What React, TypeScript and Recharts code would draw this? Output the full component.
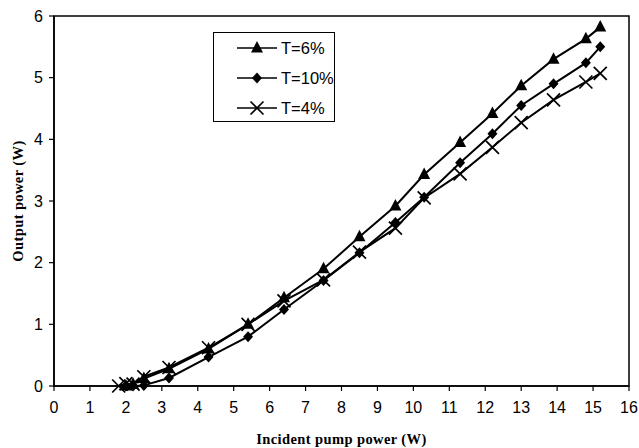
import React from 'react';
import { LineChart, Line, XAxis, YAxis, ReferenceArea, Legend, Label } from 'recharts';

// Incident pump power (W) and output power (W) per output-coupler transmission
const pumpT6 = [2.0, 2.2, 2.5, 3.2, 4.3, 5.4, 6.4, 7.5, 8.5, 9.5, 10.3, 11.3, 12.2, 13.0, 13.9, 14.8, 15.2];
const outT6 = [0.0, 0.03, 0.12, 0.28, 0.6, 1.0, 1.43, 1.9, 2.42, 2.92, 3.43, 3.95, 4.42, 4.87, 5.3, 5.63, 5.82];

const pumpT10 = [2.0, 2.2, 2.5, 3.2, 4.3, 5.4, 6.4, 7.5, 8.5, 9.5, 10.3, 11.3, 12.2, 13.0, 13.9, 14.8, 15.2];
const outT10 = [0.0, 0.0, 0.01, 0.13, 0.47, 0.8, 1.24, 1.71, 2.16, 2.65, 3.06, 3.62, 4.09, 4.55, 4.9, 5.24, 5.5];

const pumpT4 = [1.8, 2.0, 2.2, 2.5, 3.2, 4.3, 5.4, 6.4, 7.5, 8.5, 9.5, 10.3, 11.3, 12.2, 13.0, 13.9, 14.8, 15.2];
const outT4 = [0.0, 0.04, 0.03, 0.15, 0.3, 0.62, 1.0, 1.38, 1.72, 2.17, 2.56, 3.05, 3.44, 3.87, 4.27, 4.64, 4.93, 5.07];

const xTicks = [0, 1, 2, 3, 4, 5, 6, 7, 8, 9, 10, 11, 12, 13, 14, 15, 16];
const yTicks = [0, 1, 2, 3, 4, 5, 6];

const legendNames = ['T=6%', 'T=10%', 'T=4%'];

const zip = (xs: number[], ys: number[]) => xs.map((x, i) => ({ x, y: ys[i] }));
const dataT6 = zip(pumpT6, outT6);
const dataT10 = zip(pumpT10, outT10);
const dataT4 = zip(pumpT4, outT4);

const TriShape = ({ cx, cy }: any) =>
  cx == null ? null : (
    <path d={`M${cx},${cy - 7} L${cx + 6},${cy + 4.5} L${cx - 6},${cy + 4.5} Z`} fill="#000" />
  );
const DiaShape = ({ cx, cy }: any) =>
  cx == null ? null : (
    <path d={`M${cx},${cy - 5.5} L${cx + 5},${cy} L${cx},${cy + 5.5} L${cx - 5},${cy} Z`} fill="#000" />
  );
const CrossShape = ({ cx, cy }: any) =>
  cx == null ? null : (
    <path
      d={`M${cx - 6.5},${cy - 6.5} L${cx + 6.5},${cy + 6.5} M${cx - 6.5},${cy + 6.5} L${cx + 6.5},${cy - 6.5}`}
      stroke="#000"
      strokeWidth={1.7}
      fill="none"
    />
  );

const shapes = [TriShape, DiaShape, CrossShape];

const LegendBox = () => (
  <div
    style={{
      width: 122,
      height: 90,
      border: '1.5px solid #000',
      background: '#fff',
      boxSizing: 'border-box',
    }}
  >
    <svg width={120} height={88}>
      {legendNames.map((n, i) => {
        const y = 15 + i * 30;
        const S = shapes[i];
        return (
          <g key={n}>
            <line x1={23} x2={63} y1={y} y2={y} stroke="#000" strokeWidth={1.5} />
            <S cx={43} cy={y} />
            <text x={67} y={y + 6} fontSize={16.5} fill="#000" fontFamily="Liberation Sans, Arial, sans-serif">
              {n}
            </text>
          </g>
        );
      })}
    </svg>
  </div>
);

const YTitle = ({ viewBox }: any) => {
  const cx = 18;
  const cy = viewBox.y + viewBox.height / 2;
  return (
    <text
      x={cx}
      y={cy}
      transform={`rotate(-90 ${cx} ${cy})`}
      textAnchor="middle"
      dominantBaseline="central"
      fontFamily="Liberation Serif, Times New Roman, serif"
      fontWeight="bold"
      fontSize={14.5}
      letterSpacing={0.4}
      fill="#000"
    >
      Output power (W)
    </text>
  );
};

const tickStyle = { fontFamily: 'Liberation Sans, Arial, sans-serif', fontSize: 16, fill: '#000' };

export default function App() {
  return (
    <div style={{ position: 'absolute', left: 0, top: 0, width: 639, height: 448, background: '#fff' }}>
      <LineChart width={639} height={448} margin={{ top: 16, right: 10, bottom: 2, left: 10 }}>
        <XAxis
          type="number"
          dataKey="x"
          domain={[0, 16]}
          ticks={xTicks}
          interval={0}
          height={60}
          tick={tickStyle}
          tickSize={5}
          tickMargin={11}
          axisLine={{ stroke: '#000', strokeWidth: 1.6 }}
          tickLine={{ stroke: '#000', strokeWidth: 1.2 }}
        >
          <Label
            value="Incident pump power (W)"
            position="insideBottom"
            offset={2}
            style={{
              fontFamily: 'Liberation Serif, Times New Roman, serif',
              fontWeight: 'bold',
              fontSize: 14.5,
              letterSpacing: 0.4,
              fill: '#000',
            }}
          />
        </XAxis>
        <YAxis
          type="number"
          domain={[0, 6]}
          ticks={yTicks}
          interval={0}
          width={44}
          tick={tickStyle}
          tickSize={5}
          tickMargin={6}
          axisLine={{ stroke: '#000', strokeWidth: 1.6 }}
          tickLine={{ stroke: '#000', strokeWidth: 1.2 }}
          label={<YTitle />}
        />
        <ReferenceArea x1={0} x2={16} y1={0} y2={6} fill="none" stroke="#000" strokeWidth={1.5} ifOverflow="visible" />
        <Legend
          layout="vertical"
          verticalAlign="middle"
          align="center"
          content={<LegendBox />}
          wrapperStyle={{ left: 213, top: 32, width: 122, height: 90 }}
        />
        <Line
          data={dataT6}
          dataKey="y"
          name="T=6%"
          stroke="#000"
          strokeWidth={2}
          dot={<TriShape />}
          activeDot={false}
          isAnimationActive={false}
          type="linear"
        />
        <Line
          data={dataT10}
          dataKey="y"
          name="T=10%"
          stroke="#000"
          strokeWidth={2}
          dot={<DiaShape />}
          activeDot={false}
          isAnimationActive={false}
          type="linear"
        />
        <Line
          data={dataT4}
          dataKey="y"
          name="T=4%"
          stroke="#000"
          strokeWidth={2}
          dot={<CrossShape />}
          activeDot={false}
          isAnimationActive={false}
          type="linear"
        />
      </LineChart>
    </div>
  );
}
